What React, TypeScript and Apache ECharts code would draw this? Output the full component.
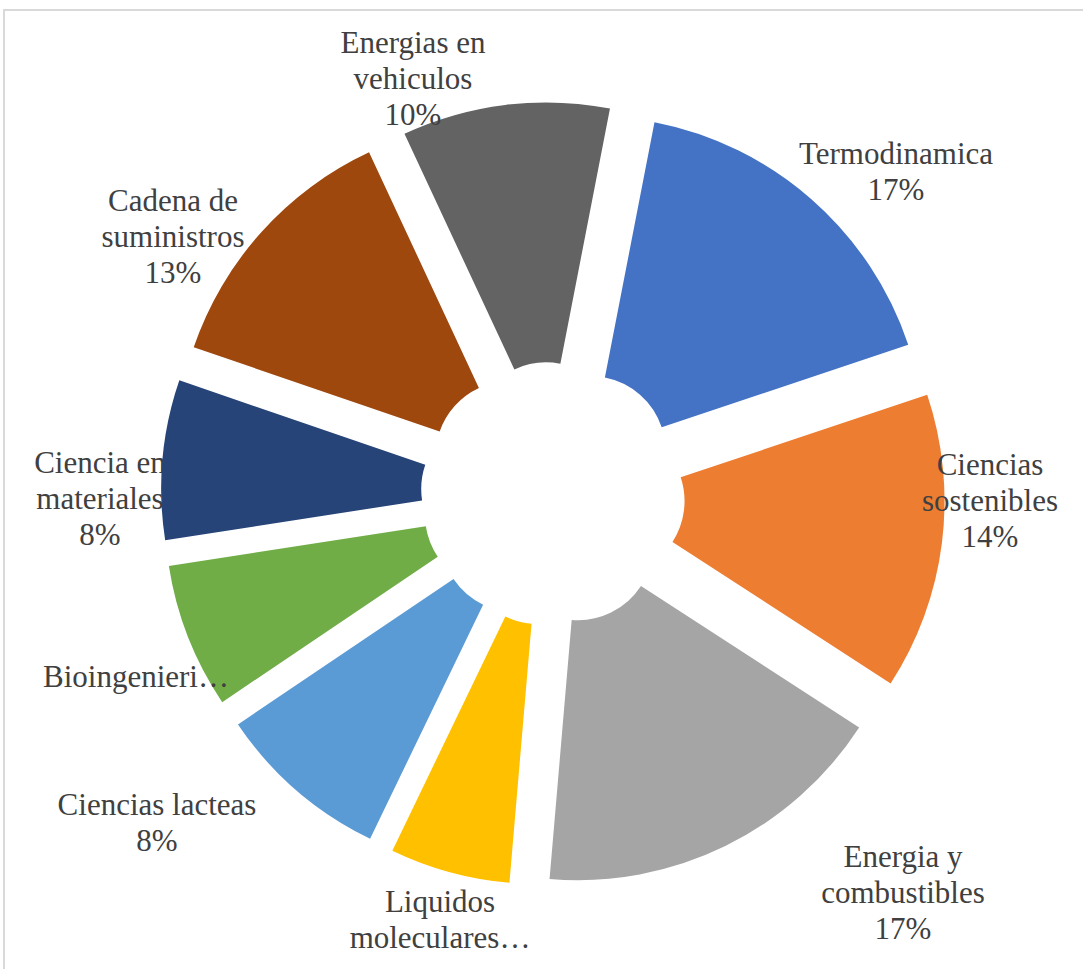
import React, { useEffect, useRef } from "react";
import * as echarts from "echarts";

const categories = [
  "Termodinamica",
  "Ciencias sostenibles",
  "Energia y combustibles",
  "Liquidos moleculares",
  "Ciencias lacteas",
  "Bioingenieria",
  "Ciencia en materiales",
  "Cadena de suministros",
  "Energias en vehiculos",
];
const values = [16.8, 14.3, 17.2, 5.8, 8.4, 7.0, 7.7, 12.8, 10.0];
const displayNames = [
  "Termodinamica",
  "Ciencias\nsostenibles",
  "Energia y\ncombustibles",
  "Liquidos\nmoleculares…",
  "Ciencias lacteas",
  "Bioingenieri…",
  "Ciencia en\nmateriales",
  "Cadena de\nsuministros",
  "Energias en\nvehiculos",
];
const showPercent = [true, true, true, false, true, false, true, true, true];
const colors = [
  "#4472C4",
  "#ED7D31",
  "#A5A5A5",
  "#FFC000",
  "#5B9BD5",
  "#70AD47",
  "#264478",
  "#9E480E",
  "#636363",
];
// label anchor positions (block centre) in pixels
const labelPos = [
  [896, 171],
  [990, 500],
  [903, 892],
  [440, 919],
  [157, 822],
  [136, 676],
  [100, 498],
  [173, 236],
  [413, 78],
];

export default function App() {
  const ref = useRef<HTMLDivElement>(null);
  useEffect(() => {
    if (!ref.current) return;
    const chart = echarts.init(ref.current, undefined, { renderer: "svg" });
    const total = values.reduce((a, b) => a + b, 0);
    const font = "'Liberation Serif', 'Times New Roman', serif";
    const texts = categories.map((c, i) => {
      const pct = Math.round((values[i] / total) * 100) + "%";
      const txt = showPercent[i] ? displayNames[i] + "\n" + pct : displayNames[i];
      return {
        type: "text",
        x: labelPos[i][0],
        y: labelPos[i][1],
        z: i === 6 ? 0 : 100,
        style: {
          text: txt,
          fill: "#404040",
          font: `31px ${font}`,
          fontFamily: font,
          fontSize: 31,
          lineHeight: 36,
          align: "center",
          verticalAlign: "middle",
        },
      };
    });
    chart.setOption({
      animation: false,
      backgroundColor: "#ffffff",
      graphic: [
        {
          type: "rect",
          z: 0,
          shape: { x: 4, y: 10, width: 1200, height: 1200 },
          style: { fill: "none", stroke: "#d9d9d9", lineWidth: 2 },
        },
        ...texts,
      ],
      series: [
        {
          type: "pie",
          z: 2,
          center: [553, 494],
          radius: [75, 335],
          startAngle: 79,
          clockwise: true,
          selectedMode: "multiple",
          selectedOffset: 57,
          avoidLabelOverlap: false,
          label: { show: false },
          labelLine: { show: false },
          emphasis: { disabled: true },
          select: { itemStyle: { borderWidth: 0 } },
          itemStyle: { borderWidth: 0 },
          data: categories.map((c, i) => ({
            name: c,
            value: values[i],
            selected: true,
            itemStyle: { color: colors[i] },
            select: { itemStyle: { color: colors[i] } },
          })),
        },
      ],
    });
    return () => chart.dispose();
  }, []);
  return (
    <div
      ref={ref}
      style={{ position: "absolute", left: 0, top: 0, width: 1083, height: 969 }}
    />
  );
}
